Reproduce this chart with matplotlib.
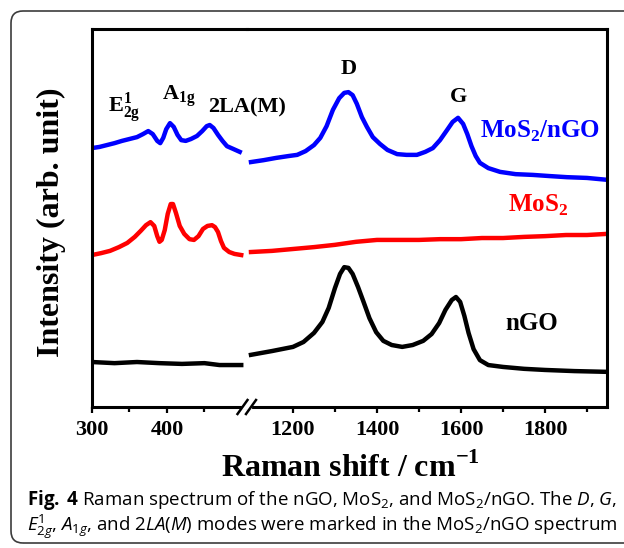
import matplotlib
matplotlib.use("Agg")
import matplotlib.pyplot as plt
from matplotlib.patches import FancyBboxPatch
from matplotlib.transforms import IdentityTransform
from matplotlib.lines import Line2D

plt.rcParams["font.family"] = ["Liberation Serif", "DejaVu Sans"]
plt.rcParams["font.weight"] = "bold"
plt.rcParams["mathtext.fontset"] = "custom"
plt.rcParams["mathtext.rm"] = "Open Sans:weight=normal"
plt.rcParams["mathtext.it"] = "Open Sans:style=italic:weight=normal"
plt.rcParams["mathtext.bf"] = "Open Sans:weight=bold"

# low-wavenumber window (cm-1)
x_low_blue = [300, 310, 320, 330, 340, 350, 360, 368, 375, 381, 387, 391, 395, 399, 404, 409,
              414, 419, 425, 432, 440, 447, 453, 457, 462, 468, 474, 480, 488, 497]
mos2_ngo_low = [68.5, 68.8, 69.3, 69.8, 70.4, 70.9, 71.4, 72.2, 73.0, 72.2, 70.4, 69.8, 71.2, 73.5,
                75.1, 74.1, 72.0, 70.6, 70.4, 70.9, 71.7, 73.0, 74.3, 74.6, 73.8, 72.0, 70.4, 69.0,
                68.3, 67.5]
x_low_red = [300, 312, 324, 336, 347, 357, 365, 372, 378, 383, 387, 390, 393, 397, 401, 405, 408,
             412, 417, 423, 430, 436, 442, 448, 454, 460, 464, 468, 472, 476, 483, 490, 499]
mos2_low = [40.2, 40.7, 41.3, 42.3, 43.4, 45.0, 46.6, 48.1, 48.9, 47.9, 45.2, 43.7, 44.2, 46.8,
            51.1, 53.7, 53.7, 51.3, 47.9, 45.8, 44.4, 44.2, 45.2, 47.1, 47.9, 48.1, 47.6, 46.3,
            43.9, 42.1, 41.0, 40.5, 40.2]
x_low_black = [300, 330, 360, 390, 420, 450, 470, 499]
ngo_low = [11.9, 11.6, 11.9, 11.6, 11.4, 11.6, 11.1, 11.1]

# high-wavenumber window (cm-1)
x_high_blue = [1100, 1130, 1160, 1190, 1210, 1230, 1250, 1265, 1280, 1295, 1310, 1322, 1332, 1342,
               1352, 1364, 1376, 1390, 1407, 1425, 1448, 1470, 1495, 1515, 1533, 1550, 1567, 1580,
               1593, 1605, 1615, 1625, 1635, 1645, 1665, 1693, 1730, 1771, 1810, 1852, 1900, 1948]
mos2_ngo_high = [64.8, 65.3, 65.9, 66.4, 66.7, 67.7, 69.3, 71.2, 74.3, 78.6, 81.7, 83.1, 83.3, 82.5,
                 80.2, 76.7, 74.1, 71.4, 69.6, 68.0, 66.9, 66.7, 66.7, 67.5, 68.5, 70.6, 73.3, 75.4,
                 76.5, 74.9, 72.2, 69.0, 66.4, 64.6, 63.2, 62.2, 61.6, 61.4, 61.1, 60.8, 60.6, 60.1]
x_high_red = [1100, 1150, 1200, 1250, 1300, 1350, 1400, 1450, 1500, 1550, 1600, 1650, 1700, 1750,
              1800, 1850, 1900, 1948]
mos2_high = [41.0, 41.3, 41.8, 42.3, 42.9, 43.7, 44.2, 44.2, 44.2, 44.4, 44.4, 44.7, 44.7, 45.0,
             45.2, 45.5, 45.5, 45.8]
x_high_black = [1100, 1150, 1200, 1225, 1250, 1270, 1285, 1300, 1312, 1322, 1332, 1342, 1355, 1368,
                1382, 1398, 1415, 1435, 1460, 1485, 1510, 1530, 1548, 1563, 1578, 1588, 1598, 1608,
                1618, 1630, 1645, 1665, 1700, 1750, 1800, 1870, 1948]
ngo_high = [13.8, 14.8, 15.9, 17.2, 19.6, 22.5, 26.2, 31.5, 35.2, 37.0, 36.8, 35.2, 31.7, 27.8,
            23.5, 19.8, 17.5, 16.4, 15.9, 16.4, 17.5, 19.3, 22.2, 25.7, 28.3, 29.1, 27.8, 24.1,
            19.6, 15.3, 12.4, 11.1, 10.6, 10.1, 9.8, 9.5, 9.3]

low_major = [300, 400]
low_minor = [350, 450]
high_major = [1200, 1400, 1600, 1800]
high_minor = [1300, 1500, 1700, 1900]

W, H = 624, 548
fig = plt.figure(figsize=(W / 100, H / 100), dpi=100)
ax1 = fig.add_axes([92 / W, 1 - 407 / H, 155 / W, 378 / H])
ax2 = fig.add_axes([247 / W, 1 - 407 / H, 360 / W, 378 / H])

lw = 3.2
ax1.plot(x_low_blue, mos2_ngo_low, color="#0000ff", lw=lw)
ax1.plot(x_low_red, mos2_low, color="#ff0000", lw=lw)
ax1.plot(x_low_black, ngo_low, color="black", lw=lw)
ax2.plot(x_high_blue, mos2_ngo_high, color="#0000ff", lw=lw)
ax2.plot(x_high_red, mos2_high, color="#ff0000", lw=lw)
ax2.plot(x_high_black, ngo_high, color="black", lw=lw)

ax1.set_xlim(300, 506.7)
ax2.set_xlim(1090.5, 1947.6)
for ax in (ax1, ax2):
    ax.set_ylim(0, 100)
    ax.set_yticks([])
    ax.set_facecolor("none")
    for s in ax.spines.values():
        s.set_linewidth(2.2)
    ax.tick_params(axis="x", which="major", direction="out", length=4.5, width=1.6,
                   labelsize=16, pad=5)
    ax.tick_params(axis="x", which="minor", direction="out", length=3.5, width=1.6)
ax1.spines["right"].set_visible(False)
ax2.spines["left"].set_visible(False)
ax1.set_xticks(low_major)
ax1.set_xticks(low_minor, minor=True)
ax2.set_xticks(high_major)
ax2.set_xticks(high_minor, minor=True)

# peak labels
ax1.text(321, 77.8, r"E$^\mathregular{1}_\mathregular{2g}$", fontsize=16, ha="left", va="baseline")
ax1.text(393, 81.2, r"A$_\mathregular{1g}$", fontsize=16, ha="left", va="baseline")
ax1.text(455, 77.8, "2LA(M)", fontsize=16, ha="left", va="baseline")
ax2.text(1333, 88.1, "D", fontsize=16, ha="center", va="baseline")
ax2.text(1595, 80.7, "G", fontsize=16, ha="center", va="baseline")
ax2.text(1645, 71.2, r"MoS$_\mathregular{2}$/nGO", fontsize=18, color="#0000ff", ha="left", va="baseline")
ax2.text(1712, 51.6, r"MoS$_\mathregular{2}$", fontsize=18, color="#ff0000", ha="left", va="baseline")
ax2.text(1705, 20.4, "nGO", fontsize=18, color="black", ha="left", va="baseline")

fig.text(350 / W, 1 - 477 / H, r"Raman shift / cm$^\mathregular{-1}$", fontsize=23,
         ha="center", va="baseline")
fig.text(51 / W, 1 - 222 / H, "Intensity (arb. unit)", fontsize=23, rotation=90,
         ha="center", va="center")

# axis break marks
pix = IdentityTransform()
fig.add_artist(Line2D([244, 250], [H - 407, H - 407], color="white", lw=3, transform=pix))
for cx in (242.5, 251):
    fig.add_artist(Line2D([cx - 5, cx + 5], [H - 414, H - 400], color="black", lw=1.8,
                          transform=pix))

# caption frame
fig.add_artist(FancyBboxPatch((11, H - 543), 700, 532, boxstyle="round,pad=0,rounding_size=12",
                              transform=pix, fill=False, ec="#3c3c3c", lw=1.2))

cap1 = (r"$\mathbf{Fig.\;4}$ Raman spectrum of the nGO, MoS$_\mathregular{2}$, and "
        r"MoS$_\mathregular{2}$/nGO. The $\mathit{D}$, $\mathit{G}$,")
cap2 = (r"$\mathit{E}^{\mathit{1}}_{\mathit{2g}}$, $\mathit{A}_{\mathit{1g}}$, and "
        r"$\mathit{2LA(M)}$ modes were marked in the MoS$_\mathregular{2}$/nGO spectrum")
t1 = fig.text(27 / W, 1 - 505 / H, cap1, family="Open Sans", weight="normal", fontsize=12,
              ha="left", va="baseline")
t2 = fig.text(27 / W, 1 - 531 / H, cap2, family="Open Sans", weight="normal", fontsize=12,
              ha="left", va="baseline")
r = fig.canvas.get_renderer()
w1 = t1.get_window_extent(r).width
size = 12 * 588 / w1
t1.set_fontsize(size)
t2.set_fontsize(size)

fig.savefig("out.png", dpi=100)
